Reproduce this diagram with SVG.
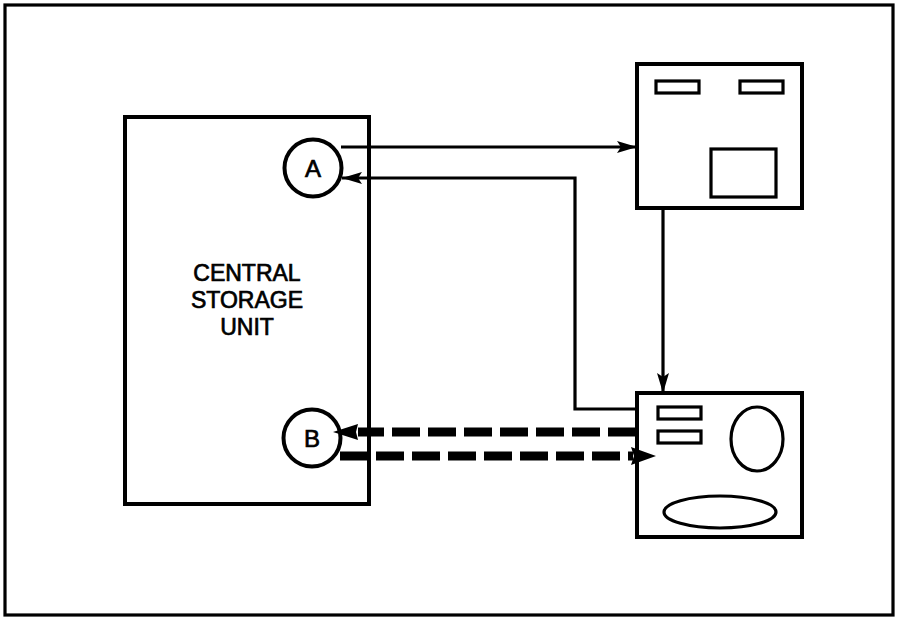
<svg xmlns="http://www.w3.org/2000/svg" width="898" height="621" viewBox="0 0 898 621">
<defs>
<style>
.box{fill:#fff;stroke:#000;stroke-width:4}
.part{fill:none;stroke:#000;stroke-width:3.2}
.ln{fill:none;stroke:#000;stroke-width:3.2}
.dash{fill:none;stroke:#000;stroke-width:9;stroke-dasharray:28 8}
.lbl{font-family:"Liberation Sans",Arial,sans-serif;fill:#000;stroke:#000;stroke-width:0.7;text-anchor:middle}
</style>
<marker id="ah" viewBox="0 0 20 12" refX="20" refY="6" markerWidth="20" markerHeight="12" markerUnits="userSpaceOnUse" orient="auto">
<path d="M0,0 L20,6 L0,12 L4,6 Z" fill="#000"/>
</marker>
</defs>
<rect x="0" y="0" width="898" height="621" fill="#fff"/>
<rect x="5" y="5" width="888" height="610" fill="none" stroke="#000" stroke-width="3.2"/>

<g id="central-storage-unit">
<rect class="box" x="125" y="117" width="244" height="387"/>
<text class="lbl" x="247" y="281" font-size="23">CENTRAL</text>
<text class="lbl" x="247" y="308" font-size="23">STORAGE</text>
<text class="lbl" x="247" y="335" font-size="23">UNIT</text>
</g>

<g id="port-a">
<circle class="box" cx="313" cy="168" r="28.5" stroke-width="3.2"/>
<text class="lbl" x="313" y="177" font-size="24">A</text>
</g>

<g id="port-b">
<circle class="box" cx="312" cy="438" r="28.5" stroke-width="3.2"/>
<text class="lbl" x="312" y="447" font-size="24">B</text>
</g>

<g id="device-top">
<rect class="box" x="637" y="64" width="165" height="144"/>
<rect class="part" x="656" y="81" width="43" height="12"/>
<rect class="part" x="740" y="81" width="43" height="12"/>
<rect class="part" x="711" y="149" width="65" height="48"/>
</g>

<g id="device-bottom">
<rect class="box" x="637" y="393" width="165" height="144"/>
<rect class="part" x="658" y="407" width="43" height="12"/>
<rect class="part" x="658" y="431" width="43" height="12"/>
<ellipse class="part" cx="757" cy="439" rx="26" ry="32"/>
<ellipse class="part" cx="720" cy="512" rx="56" ry="16"/>
</g>

<g id="connectors">
<line class="ln" x1="341" y1="147" x2="637" y2="147" marker-end="url(#ah)"/>
<polyline class="ln" points="637,409 575,409 575,178 342,178" marker-end="url(#ah)"/>
<line class="ln" x1="663" y1="208" x2="663" y2="393" marker-end="url(#ah)"/>
<line class="dash" x1="636" y1="432" x2="358" y2="432"/>
<path d="M333,432 L358,424 L356,432 L358,440 Z" fill="#000"/>
<line class="dash" x1="340" y1="456" x2="633" y2="456" stroke-dasharray="20 6 28 8 28 8 28 8 28 8 28 8 28 8 28 8 28 8"/>
<path d="M656,456 L631,447 L634,456 L631,465 Z" fill="#000"/>
</g>
</svg>
